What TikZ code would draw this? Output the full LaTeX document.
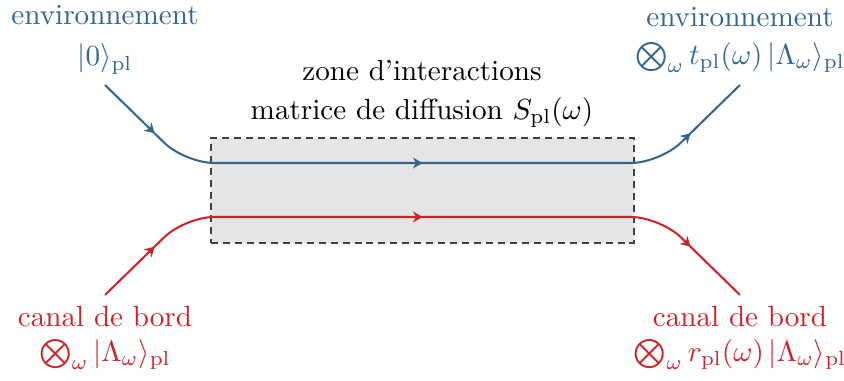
\documentclass[tikz,border=0pt]{standalone}
\usepackage{amsmath,amssymb}
\usetikzlibrary{arrows.meta,decorations.markings}
\definecolor{envblue}{RGB}{52,101,142}
\definecolor{bordred}{RGB}{204,35,40}
\newcommand{\pl}{\mathrm{pl}}

\begin{document}
\begin{tikzpicture}[
  x=0.01205cm, y=-0.01205cm,
  lab/.style={align=center,inner sep=0pt},
  zonebox/.style={draw=black!75,line width=0.45pt,dash pattern=on 2.4pt off 1.7pt,
    fill=gray!20,inner sep=0pt,minimum width=5.097cm,minimum height=1.265cm},
  flow/.style={line width=0.7pt,rounded corners=10pt,postaction={decorate},
    decoration={markings,
      mark=at position 0.1 with {\arrow{Stealth[length=3.3pt,width=3.8pt]}},
      mark=at position 0.5 with {\arrow{Stealth[length=3.3pt,width=3.8pt]}},
      mark=at position 0.9 with {\arrow{Stealth[length=3.3pt,width=3.8pt]}}}}
]
  \useasboundingbox (0,0) rectangle (844,381);
  % zone d'interactions
  \node[zonebox] (zone) at (422.5,190.5) {};
  \node[lab] (titre) at (422,94) {zone d'interactions\\[1.5pt] matrice de diffusion $S_{\pl}(\omega)$};
  % etiquettes
  \node[lab,envblue] (envg) at (105,40) {environnement\\[2pt] $|0\rangle_{\pl}$};
  \node[lab,envblue] (envd) at (740,40) {environnement\\[1pt] $\bigotimes_\omega t_{\pl}(\omega)\,|\Lambda_\omega\rangle_{\pl}$};
  \node[lab,bordred] (cang) at (105,338) {canal de bord\\ $\bigotimes_\omega |\Lambda_\omega\rangle_{\pl}$};
  \node[lab,bordred] (cand) at (740,338) {canal de bord\\ $\bigotimes_\omega r_{\pl}(\omega)\,|\Lambda_\omega\rangle_{\pl}$};
  % extremites des canaux
  \coordinate (envin) at (105,85);
  \coordinate (envout) at (740,85);
  \coordinate (canin) at (105,295);
  \coordinate (canout) at (740,295);
  \draw[flow,envblue] (envin) -- (185,163) -- (660,163) -- (envout);
  \draw[flow,bordred] (canin) -- (185,217) -- (660,217) -- (canout);
\end{tikzpicture}
\end{document}
